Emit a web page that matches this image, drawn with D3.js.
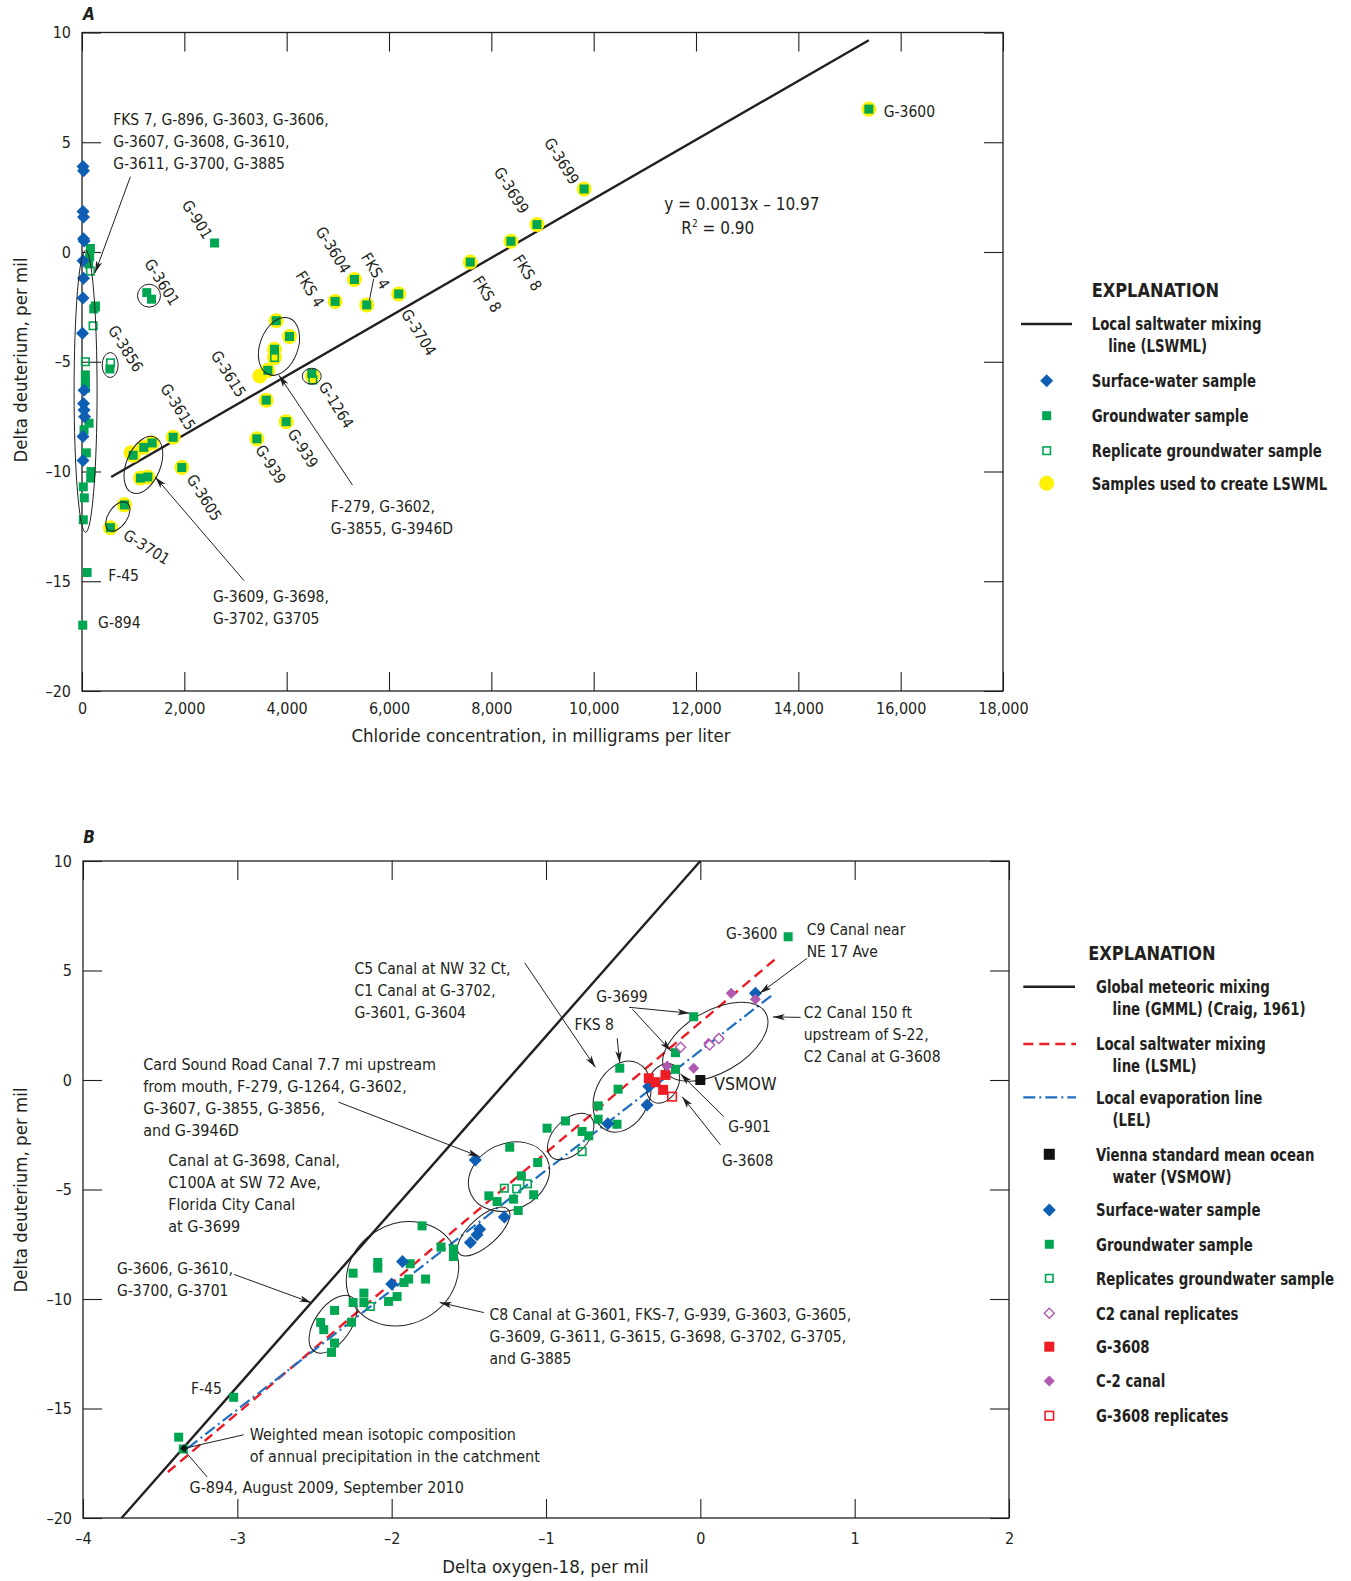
<!DOCTYPE html>
<html><head><meta charset="utf-8">
<script src="https://cdn.jsdelivr.net/npm/d3@7"></script>
<style>
body{margin:0;background:#fff;}
svg text{font-family:'Liberation Sans Narrow','DejaVu Sans Condensed','Arial Narrow',sans-serif;fill:#231f20;}
</style></head>
<body><svg id="c" width="1351" height="1581"></svg>
<script>
// ---------- Panel A data (chloride mg/L, delta D per mil) ----------
const aXTicks = [0,2000,4000,6000,8000,10000,12000,14000,16000,18000];
const aYTicks = [-20,-15,-10,-5,0,5,10];
const aSurface = [[20,3.9],[30,3.7],[20,1.85],[30,1.6],[30,0.6],[40,0.5],[20,-0.4],[30,-1.2],[20,-2.1],[10,-3.7],[40,-6.3],[30,-6.9],[40,-7.2],[50,-7.5],[20,-8.4],[20,-9.5]];
const aGround = [[164,0.16],[150,-0.21],[131,-0.54],[230,-2.59],[262,-2.46],[66,-5.6],[66,-5.9],[66,-6.2],[138,-7.8],[40,-8.1],[85,-9.15],[177,-10.0],[170,-10.3],[25,-10.7],[45,-11.2],[25,-12.2],[100,-14.6],[15,-17.0],
  [545,-5.33],[1266,-1.85],[1358,-2.15],[2591,0.41],
  [15378,6.51],[9813,2.87],[8891,1.25],[8382,0.49],[7588,-0.46],[6189,-1.91],[5324,-1.25],[4947,-2.25],[5565,-2.41],[3795,-3.13],[4055,-3.85],[3762,-4.43],[3632,-5.39],[4491,-5.53],[3600,-6.75],[3990,-7.73],[3418,-8.51],[1950,-9.82],[1782,-8.44],[999,-9.26],[1207,-8.9],[1371,-8.7],[1142,-10.3],[1286,-10.25],[829,-11.52],[555,-12.56]];
const aReplicate = [[164,-0.87],[262,-2.5],[217,-3.36],[66,-5.0],[558,-5.05],[3762,-4.81],[4511,-5.83]];
const aLswmlSamples = [[15378,6.51],[9813,2.87],[8891,1.25],[8382,0.49],[7588,-0.46],[6189,-1.91],[5324,-1.25],[4947,-2.25],[5565,-2.41],[3795,-3.13],[4055,-3.85],[3762,-4.43],[3762,-4.81],[3632,-5.39],[3476,-5.65],[4500,-5.65],[3600,-6.75],[3990,-7.73],[3418,-8.51],[1950,-9.82],[1782,-8.44],[960,-9.15],[999,-9.26],[1207,-8.9],[1371,-8.7],[1142,-10.3],[1286,-10.25],[829,-11.52],[555,-12.56]];
const aLswmlLine = [[570,-10.25],[15378,9.65]];

// ---------- Panel B data (delta O-18, delta D) ----------
const bXTicks = [-4,-3,-2,-1,0,1,2];
const bYTicks = [-20,-15,-10,-5,0,5,10];
const bGmml = [[-3.75,-20],[0,10]];
const bLsml = [[-3.45,-17.9],[0.494,5.57]];
const bLel = [[-3.32,-16.8],[0.48,3.96]];
const bSurface = [[-1.458,-3.65],[-1.27,-6.26],[-1.43,-6.81],[-1.447,-7.07],[-1.49,-7.42],[-1.93,-8.29],[-2.0,-9.31],[-0.334,-0.3],[-0.345,-1.14],[-0.6,-2.0],[0.357,3.96]];
const bGround = [[-3.38,-16.31],[-3.35,-16.85],[-3.024,-14.49],
  [-2.37,-10.52],[-2.46,-11.07],[-2.44,-11.4],[-2.26,-11.06],[-2.37,-12.01],[-2.39,-12.44],
  [-1.803,-6.66],[-1.68,-7.63],[-1.6,-7.72],[-1.6,-8.06],[-2.09,-8.33],[-2.09,-8.59],[-2.25,-8.82],[-1.88,-8.39],[-1.78,-9.09],[-1.89,-9.09],[-1.92,-9.25],[-2.18,-9.73],[-2.25,-10.16],[-2.18,-10.16],[-2.02,-10.11],[-1.965,-9.89],
  [-1.235,-3.07],[-1.054,-3.77],[-1.16,-4.38],[-1.21,-5.44],[-1.08,-5.24],[-1.37,-5.29],[-1.317,-5.55],[-1.18,-5.96],
  [-0.993,-2.2],[-0.874,-1.87],[-0.766,-2.35],[-0.723,-2.55],
  [-0.522,0.54],[-0.533,-0.42],[-0.662,-1.18],[-0.662,-1.79],[-0.54,-2.02],
  [-0.043,2.89],[-0.161,1.25],[-0.161,0.49],[0.569,6.54]];
const bReplicate = [[-1.27,-4.94],[-1.19,-4.97],[-1.12,-4.74],[-2.138,-10.34],[-0.766,-3.27]];
const bVsmow = [[0,0]];
const bC2Replicates = [[-0.128,1.5],[0.06,1.6],[0.12,1.9]];
const bG3608 = [[-0.334,0.08],[-0.226,0.23],[-0.241,-0.45],[-0.29,-0.1]];
const bC2Canal = [[0.2,3.96],[0.357,3.69],[0.054,1.68],[0.119,1.91],[-0.043,0.54],[-0.215,0.64]];
const bG3608Replicates = [[-0.183,-0.76]];
const bWeightedMean = [[-3.345,-16.82]];

const C = {green:'#00a651', blue:'#0e5fb4', yellow:'#fff200', red:'#ed1c24', purple:'#b059b0', black:'#231f20'};

const svg = d3.select('#c');
const defs = svg.append('defs');
defs.append('marker').attr('id','arr').attr('viewBox','0 0 12 8').attr('refX',12).attr('refY',4)
  .attr('markerWidth',12).attr('markerHeight',8).attr('markerUnits','userSpaceOnUse').attr('orient','auto')
  .append('path').attr('d','M0,0.8 L12,4 L0,7.2 L3,4 Z').attr('fill',C.black);

const xA = d3.scaleLinear().domain([0,18000]).range([82,1003]);
const yA = d3.scaleLinear().domain([-20,10]).range([691,32.5]);
const xB = d3.scaleLinear().domain([-4,2]).range([83,1009]);
const yB = d3.scaleLinear().domain([-20,10]).range([1518,861]);

const FS = 15.5;
function fmtNum(d){ return d<0 ? '\u2013'+d3.format(',')(-d) : d3.format(',')(d); }

function frame(x,y,xt,yt,xfmt,xpad){
  const g = svg.append('g');
  const [x0,x1]=x.range(), [y0,y1]=y.range();
  g.append('g').attr('transform',`translate(0,${y0})`).call(d3.axisBottom(x).tickValues(xt).tickSize(-19).tickSizeOuter(0).tickPadding(xpad).tickFormat(xfmt));
  g.append('g').attr('transform',`translate(0,${y1})`).call(d3.axisTop(x).tickValues(xt).tickSize(-19).tickSizeOuter(0).tickFormat(''));
  g.append('g').attr('transform',`translate(${x0},0)`).call(d3.axisLeft(y).tickValues(yt).tickSize(-19).tickSizeOuter(0).tickPadding(11).tickFormat(fmtNum));
  g.append('g').attr('transform',`translate(${x1},0)`).call(d3.axisRight(y).tickValues(yt).tickSize(-19).tickSizeOuter(0).tickFormat(''));
  g.selectAll('.domain').remove();
  g.selectAll('.tick line').attr('stroke',C.black).attr('stroke-width',1.1);
  g.selectAll('.tick text').attr('font-size',16).attr('fill',C.black);
  g.append('rect').attr('x',x0).attr('y',y1).attr('width',x1-x0).attr('height',y0-y1).attr('fill','none').attr('stroke',C.black).attr('stroke-width',1.3);
}

function line(pts,x,y,opt){
  svg.append('path').attr('d',d3.line().x(d=>x(d[0])).y(d=>y(d[1]))(pts)).attr('fill','none')
    .attr('stroke',opt.color).attr('stroke-width',opt.w||2).attr('stroke-dasharray',opt.dash||null);
}
function squares(pts,x,y,color,open,s){
  s=s||9;
  svg.append('g').selectAll('rect').data(pts).join('rect')
    .attr('x',d=>x(d[0])-s/2).attr('y',d=>y(d[1])-s/2).attr('width',s).attr('height',s)
    .attr('fill',open?'none':color).attr('stroke',open?color:'none').attr('stroke-width',open?1.6:0);
}
function diamonds(pts,x,y,color,open,s){
  s=s||6.5;
  svg.append('g').selectAll('path').data(pts).join('path')
    .attr('d',d=>`M${x(d[0])},${y(d[1])-s}L${x(d[0])+s},${y(d[1])}L${x(d[0])},${y(d[1])+s}L${x(d[0])-s},${y(d[1])}Z`)
    .attr('fill',open?'#fff':color).attr('stroke',open?color:'none').attr('stroke-width',open?1.4:0);
}
function circles(pts,x,y,color,r){
  svg.append('g').selectAll('circle').data(pts).join('circle')
    .attr('cx',d=>x(d[0])).attr('cy',d=>y(d[1])).attr('r',r).attr('fill',color);
}
function ell(x,y,c,rx,ry,rot){
  svg.append('ellipse').attr('transform',`translate(${x(c[0])},${y(c[1])}) rotate(${rot||0})`)
    .attr('rx',rx).attr('ry',ry).attr('fill','none').attr('stroke',C.black).attr('stroke-width',1);
}
function arrow(x,y,p0,p1,head){
  svg.append('line').attr('x1',x(p0[0])).attr('y1',y(p0[1])).attr('x2',x(p1[0])).attr('y2',y(p1[1]))
    .attr('stroke',C.black).attr('stroke-width',1).attr('marker-end',head===false?null:'url(#arr)');
}
function label(x,y,p,txt,rot,anchor,size){
  svg.append('text').attr('transform',`translate(${x(p[0])},${y(p[1])}) rotate(${rot||0})`)
    .attr('text-anchor',anchor||'middle').attr('dominant-baseline','central').attr('font-size',size||FS).text(txt);
}
function block(x,y,p,lines,lh,size){
  const t = svg.append('text').attr('font-size',size||FS).attr('dominant-baseline','central');
  lines.forEach((l,i)=>t.append('tspan').attr('x',x(p[0])).attr('y',y(p[1])+i*(lh||22)).text(l));
}
// bold legend text, horizontally condensed to match the narrow original face
function legText(x,y,lines,size,k){
  const g = svg.append('g').attr('transform',`translate(${x},0) scale(${k||0.87},1) translate(${-x},0)`);
  const t = g.append('text').attr('font-size',size||17).attr('font-weight','bold').attr('dominant-baseline','central');
  lines.forEach((l,i)=>t.append('tspan').attr('x',x+(i?19:0)).attr('y',y+i*22).text(l));
}

// ================= PANEL A =================
frame(xA,yA,aXTicks,aYTicks,d=>d3.format(',')(d),12);
line(aLswmlLine,xA,yA,{color:C.black,w:2.4});
circles(aLswmlSamples,xA,yA,C.yellow,7.5);
squares(aGround,xA,yA,C.green,false,9);
squares(aReplicate,xA,yA,C.green,true,7.5);
diamonds(aSurface,xA,yA,C.blue,false,6.5);

// ellipses A
ell(xA,yA,[70,-6.35],11.5,141,0);
ell(xA,yA,[1310,-1.99],11.5,11.5,0);
ell(xA,yA,[550,-5.15],8,12.5,0);
ell(xA,yA,[3850,-4.3],19,30,20);
ell(xA,yA,[4490,-5.66],9.5,8,0);
ell(xA,yA,[1200,-9.7],17,30,22);
ell(xA,yA,[700,-12.05],16.5,9.5,-56);

// labels A
block(xA,yA,[610,6.02],['FKS 7, G-896, G-3603, G-3606,','G-3607, G-3608, G-3610,','G-3611, G-3700, G-3885']);
arrow(xA,yA,[946,3.43],[255,-0.95]);
block(xA,yA,[4862,-11.62],['F-279, G-3602,','G-3855, G-3946D']);
arrow(xA,yA,[5287,-10.62],[3850,-5.62]);
block(xA,yA,[2559,-15.71],['G-3609, G-3698,','G-3702, G3705']);
arrow(xA,yA,[3166,-14.97],[1430,-10.25]);
arrow(xA,yA,[5701,-1.22],[5617,-2.2],false);

const rotA = 58;
label(xA,yA,[2244,1.47],'G-901',rotA);
label(xA,yA,[1555,-1.38],'G-3601',rotA);
label(xA,yA,[846,-4.41],'G-3856',rotA);
label(xA,yA,[1870,-7.07],'G-3615',rotA);
label(xA,yA,[2854,-5.56],'G-3615',rotA);
label(xA,yA,[2382,-11.2],'G-3605',rotA);
label(xA,yA,[1260,-13.46],'G-3701',32);
label(xA,yA,[4902,0.09],'G-3604',rotA);
label(xA,yA,[4449,-1.7],'FKS 4',rotA);
label(xA,yA,[5728,-0.87],'FKS 4',rotA);
label(xA,yA,[6575,-3.67],'G-3704',rotA);
label(xA,yA,[7913,-1.93],'FKS 8',rotA);
label(xA,yA,[8701,-0.96],'FKS 8',rotA);
label(xA,yA,[8386,2.8],'G-3699',rotA);
label(xA,yA,[9370,4.13],'G-3699',rotA);
label(xA,yA,[4961,-6.98],'G-1264',rotA);
label(xA,yA,[4311,-8.96],'G-939',rotA);
label(xA,yA,[3681,-9.69],'G-939',rotA);
label(xA,yA,[15669,6.38],'G-3600',0,'start');
label(xA,yA,[512,-14.75],'F-45',0,'start');
label(xA,yA,[315,-16.9],'G-894',0,'start');
label(xA,yA,[11378,2.2],'y = 0.0013x \u2013 10.97',0,'start',17);
const r2 = svg.append('text').attr('transform',`translate(${xA(11713)},${yA(1.1)})`).attr('dominant-baseline','central').attr('font-size',17);
r2.append('tspan').text('R');
r2.append('tspan').attr('font-size',10).attr('dy',-5).text('2');
r2.append('tspan').attr('dy',5).text(' = 0.90');

// titles A
svg.append('text').attr('x',89).attr('y',14).attr('font-size',17).attr('font-weight','bold').attr('font-style','italic').attr('text-anchor','middle').attr('dominant-baseline','central').text('A');
svg.append('text').attr('x',541).attr('y',735).attr('font-size',18.5).attr('text-anchor','middle').attr('dominant-baseline','central').text('Chloride concentration, in milligrams per liter');
svg.append('text').attr('transform','translate(20,360) rotate(-90)').attr('font-size',18.5).attr('text-anchor','middle').attr('dominant-baseline','central').text('Delta deuterium, per mil');

// legend A
const lxA = d3.scaleLinear().domain([0,1]).range([1046.7,1046.7]);
const lyA = d3.scaleIdentity();
legText(1091.7,290,['EXPLANATION'],20,0.9);
svg.append('line').attr('x1',1021).attr('x2',1072).attr('y1',324).attr('y2',324).attr('stroke',C.black).attr('stroke-width',2.4);
legText(1091.7,324,['Local saltwater mixing','line (LSWML)']);
diamonds([[0,380.7]],lxA,lyA,C.blue,false,6.5); legText(1091.7,380.7,['Surface-water sample']);
squares([[0,415.7]],lxA,lyA,C.green,false,9); legText(1091.7,415.7,['Groundwater sample']);
squares([[0,450.7]],lxA,lyA,C.green,true,7.5); legText(1091.7,450.7,['Replicate groundwater sample']);
circles([[0,483.3]],lxA,lyA,C.yellow,7.5); legText(1091.7,483.3,['Samples used to create LSWML']);

// ================= PANEL B =================
frame(xB,yB,bXTicks,bYTicks,fmtNum,15);
line(bGmml,xB,yB,{color:C.black,w:2.4});
line(bLsml,xB,yB,{color:C.red,w:2.4,dash:'10,6'});
line(bLel,xB,yB,{color:'#1f6fc0',w:2.2,dash:'12,4,2,4'});

// ellipses B
ell(xB,yB,[-2.38,-11.15],33,18,-55);
ell(xB,yB,[-1.93,-8.85],58,50,-30);
ell(xB,yB,[-1.404,-6.92],33,14,-42);
ell(xB,yB,[-1.24,-4.41],42,33,-25);
ell(xB,yB,[-0.84,-2.58],28,17,-45);
ell(xB,yB,[-0.507,-0.76],37,27,-65);
ell(xB,yB,[-0.241,-0.15],21,15,-62);
ell(xB,yB,[0.097,1.75],58,31,-30);

squares(bGround,xB,yB,C.green,false,9);
squares(bReplicate,xB,yB,C.green,true,7.5);
diamonds(bSurface,xB,yB,C.blue,false,6.5);
squares(bG3608,xB,yB,C.red,false,10);
squares(bG3608Replicates,xB,yB,C.red,true,8.5);
diamonds(bC2Canal,xB,yB,C.purple,false,5.5);
diamonds(bC2Replicates,xB,yB,C.purple,true,5);
squares(bVsmow,xB,yB,'#111',false,10);
diamonds(bWeightedMean,xB,yB,'#111',false,4);

// annotations B
block(xB,yB,[-2.241,5.06],['C5 Canal at NW 32 Ct,','C1 Canal at G-3702,','G-3601, G-3604']);
arrow(xB,yB,[-1.138,5.35],[-0.68,0.58]);
label(xB,yB,[-0.674,3.77],'G-3699',0,'start');
arrow(xB,yB,[-0.462,3.32],[-0.07,3.05]);
arrow(xB,yB,[-0.44,3.23],[-0.19,1.32]);
label(xB,yB,[-0.815,2.49],'FKS 8',0,'start');
arrow(xB,yB,[-0.539,1.91],[-0.522,0.78]);
block(xB,yB,[0.689,6.86],['C9 Canal near','NE 17 Ave']);
arrow(xB,yB,[0.692,5.56],[0.385,3.96]);
label(xB,yB,[0.167,6.67],'G-3600',0,'start');
block(xB,yB,[0.67,3.04],['C2 Canal 150 ft','upstream of S-22,','C2 Canal at G-3608']);
arrow(xB,yB,[0.65,2.86],[0.47,2.88]);
label(xB,yB,[0.09,-0.18],'VSMOW',0,'start',17.5);
label(xB,yB,[0.181,-2.16],'G-901',0,'start');
arrow(xB,yB,[0.152,-1.67],[-0.129,0.28]);
label(xB,yB,[0.14,-3.68],'G-3608',0,'start');
arrow(xB,yB,[0.13,-2.96],[-0.118,-0.76]);
block(xB,yB,[-3.61,0.74],['Card Sound Road Canal 7.7 mi upstream','from mouth, F-279, G-1264, G-3602,','G-3607, G-3855, G-3856,','and G-3946D'],22,16);
arrow(xB,yB,[-2.345,-1.01],[-1.43,-3.5]);
block(xB,yB,[-3.448,-3.64],['Canal at G-3698, Canal,','C100A at SW 72 Ave,','Florida City Canal','at G-3699'],22,16);
block(xB,yB,[-3.78,-8.65],['G-3606, G-3610,','G-3700, G-3701']);
arrow(xB,yB,[-3.02,-8.88],[-2.52,-10.17]);
block(xB,yB,[-1.366,-10.72],['C8 Canal at G-3601, FKS-7, G-939, G-3603, G-3605,','G-3609, G-3611, G-3615, G-3698, G-3702, G-3705,','and G-3885']);
arrow(xB,yB,[-1.403,-10.62],[-1.689,-10.16]);
label(xB,yB,[-3.3,-14.13],'F-45',0,'start');
block(xB,yB,[-2.92,-16.15],['Weighted mean isotopic composition','of annual precipitation in the catchment'],22,16);
arrow(xB,yB,[-2.959,-16.2],[-3.337,-16.81],false);
label(xB,yB,[-3.31,-18.59],'G-894, August 2009, September 2010',0,'start',16);
arrow(xB,yB,[-3.195,-18.13],[-3.345,-16.9],false);

// titles B
svg.append('text').attr('x',89).attr('y',837).attr('font-size',17).attr('font-weight','bold').attr('font-style','italic').attr('text-anchor','middle').attr('dominant-baseline','central').text('B');
svg.append('text').attr('x',545.5).attr('y',1566).attr('font-size',18.5).attr('text-anchor','middle').attr('dominant-baseline','central').text('Delta oxygen-18, per mil');
svg.append('text').attr('transform','translate(20,1190) rotate(-90)').attr('font-size',18.5).attr('text-anchor','middle').attr('dominant-baseline','central').text('Delta deuterium, per mil');

// legend B
const lxB = d3.scaleLinear().domain([0,1]).range([1049.3,1049.3]);
legText(1088.3,952.3,['EXPLANATION'],20,0.9);
svg.append('line').attr('x1',1023.3).attr('x2',1075).attr('y1',986.7).attr('y2',986.7).attr('stroke',C.black).attr('stroke-width',2.4);
legText(1096,986.7,['Global meteoric mixing','line (GMML) (Craig, 1961)']);
svg.append('line').attr('x1',1023.3).attr('x2',1076).attr('y1',1044).attr('y2',1044).attr('stroke',C.red).attr('stroke-width',2.4).attr('stroke-dasharray','10,6');
legText(1096,1044,['Local saltwater mixing','line (LSML)']);
svg.append('line').attr('x1',1023.3).attr('x2',1076).attr('y1',1097.3).attr('y2',1097.3).attr('stroke','#1f6fc0').attr('stroke-width',2.2).attr('stroke-dasharray','12,4,2,4');
legText(1096,1097.3,['Local evaporation line','(LEL)']);
squares([[0,1154.3]],lxB,lyA,'#111',false,11); legText(1096,1154.3,['Vienna standard mean ocean','water (VSMOW)']);
diamonds([[0,1210]],lxB,lyA,C.blue,false,6.5); legText(1096,1210,['Surface-water sample']);
squares([[0,1244.3]],lxB,lyA,C.green,false,9); legText(1096,1244.3,['Groundwater sample']);
squares([[0,1278.3]],lxB,lyA,C.green,true,7.5); legText(1096,1278.3,['Replicates groundwater sample']);
diamonds([[0,1313.3]],lxB,lyA,C.purple,true,5); legText(1096,1313.3,['C2 canal replicates']);
squares([[0,1346.7]],lxB,lyA,C.red,false,10); legText(1096,1346.7,['G-3608']);
diamonds([[0,1381]],lxB,lyA,C.purple,false,5.5); legText(1096,1381,['C-2 canal']);
squares([[0,1415.7]],lxB,lyA,C.red,true,8.5); legText(1096,1415.7,['G-3608 replicates']);
</script></body></html>
